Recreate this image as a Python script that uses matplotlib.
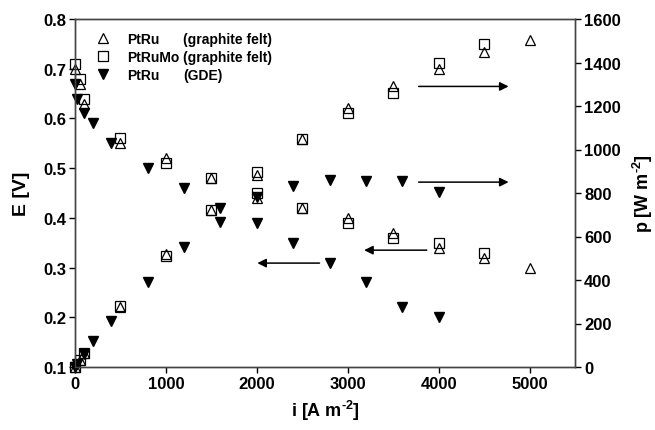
import matplotlib
matplotlib.use("Agg")
import matplotlib.pyplot as plt
from matplotlib.lines import Line2D

plt.rcParams['font.family'] = ['Liberation Sans', 'DejaVu Sans']
plt.rcParams['font.weight'] = 'bold'
plt.rcParams['mathtext.fontset'] = 'custom'
plt.rcParams['mathtext.rm'] = 'Liberation Sans:bold'
plt.rcParams['mathtext.bf'] = 'Liberation Sans:bold'
plt.rcParams['mathtext.it'] = 'Liberation Sans:bold'

# --- data ---
i_ptru = [0, 50, 100, 500, 1000, 1500, 2000, 2500, 3000, 3500, 4000, 4500, 5000]
E_ptru = [0.70, 0.67, 0.63, 0.55, 0.52, 0.48, 0.44, 0.42, 0.40, 0.37, 0.34, 0.32, 0.30]
p_ptru = [0, 34, 63, 275, 520, 720, 885, 1050, 1190, 1290, 1370, 1450, 1505]

i_ptrumo = [0, 50, 100, 500, 1000, 1500, 2000, 2500, 3000, 3500, 4000, 4500]
E_ptrumo = [0.71, 0.68, 0.64, 0.56, 0.51, 0.48, 0.45, 0.42, 0.39, 0.36, 0.35, 0.33]
p_ptrumo = [0, 34, 64, 280, 510, 720, 895, 1050, 1170, 1260, 1400, 1485]

i_gde = [0, 20, 100, 200, 400, 800, 1200, 1600, 2000, 2400, 2800, 3200, 3600, 4000]
E_gde = [0.67, 0.64, 0.61, 0.59, 0.55, 0.50, 0.46, 0.42, 0.39, 0.35, 0.31, 0.27, 0.22, 0.20]
p_gde = [0, 13, 61, 118, 211, 391, 552, 667, 782, 832, 858, 855, 855, 805]

labels_name = ["PtRu", "PtRuMo", "PtRu"]
labels_type = ["(graphite felt)", "(graphite felt)", "(GDE)"]

x_ticks = [0, 1000, 2000, 3000, 4000, 5000]
E_ticks = [0.1, 0.2, 0.3, 0.4, 0.5, 0.6, 0.7, 0.8]
p_ticks = [0, 200, 400, 600, 800, 1000, 1200, 1400, 1600]

# arrows: (x_start, x_end, y) ; p-axis arrows point right, E-axis arrows point left
arrows_p = [(3750, 4800, 1290), (3750, 4800, 850)]
arrows_E = [(3900, 3150, 0.335), (2720, 1975, 0.309)]

fig = plt.figure(figsize=(6.55, 4.31), dpi=100)
ax = fig.add_axes([75/655, 63/431, 500/655, 348/431])
ax2 = ax.twinx()

tri_kw = dict(marker='^', ms=7, mfc='white', mec='black', mew=0.9, ls='none', clip_on=False)
sq_kw = dict(marker='s', ms=6.5, mfc='none', mec='black', mew=0.9, ls='none', clip_on=False)
fil_kw = dict(marker='v', ms=7.2, mfc='black', mec='black', ls='none', clip_on=False)

h1, = ax.plot(i_ptru, E_ptru, **tri_kw)
h2, = ax.plot(i_ptrumo, E_ptrumo, **sq_kw)
h3, = ax.plot(i_gde, E_gde, **fil_kw)
ax2.plot(i_ptru, p_ptru, **tri_kw)
ax2.plot(i_ptrumo, p_ptrumo, **sq_kw)
ax2.plot(i_gde, p_gde, **fil_kw)

ax.set_xlim(0, 5500)
ax.set_ylim(0.1, 0.8)
ax2.set_ylim(0, 1600)
ax.set_xticks(x_ticks)
ax.set_yticks(E_ticks)
ax2.set_yticks(p_ticks)
ax.set_yticklabels([f"{v:.1f}" for v in E_ticks])

for a in (ax, ax2):
    a.tick_params(direction='out', length=4, width=1, labelsize=12, colors='black', pad=2.5)
    for s in a.spines.values():
        s.set_linewidth(1.0)
        s.set_color('#444444')

ax.set_xlabel("i [A m$^{\\text{-2}}$]", fontsize=13, fontweight='bold', labelpad=5)
ax.set_ylabel("E [V]", fontsize=14, fontweight='bold', labelpad=9)
ax2.set_ylabel("p [W m$^{\\text{-2}}$]", fontsize=13, fontweight='bold', labelpad=7)

for x0, x1, y in arrows_p:
    ax2.annotate("", xy=(x1, y), xytext=(x0, y),
                 arrowprops=dict(arrowstyle='-|>', color='black', lw=1.1, mutation_scale=13))
for x0, x1, y in arrows_E:
    ax.annotate("", xy=(x1, y), xytext=(x0, y),
                arrowprops=dict(arrowstyle='-|>', color='black', lw=1.1, mutation_scale=13))

blank = Line2D([], [], ls='none', marker='none')
handles = [h1, h2, h3, blank, blank, blank]
labels = labels_name + labels_type
leg = ax.legend(handles, labels, ncol=2, loc='upper left', bbox_to_anchor=(0.018, 1.0),
                frameon=False, handlelength=1.0, handletextpad=1.2, columnspacing=-1.93,
                labelspacing=0.3, borderaxespad=0.5, prop=dict(size=10, weight='bold'),
                numpoints=1)

fig.savefig("out.png", dpi=100)
